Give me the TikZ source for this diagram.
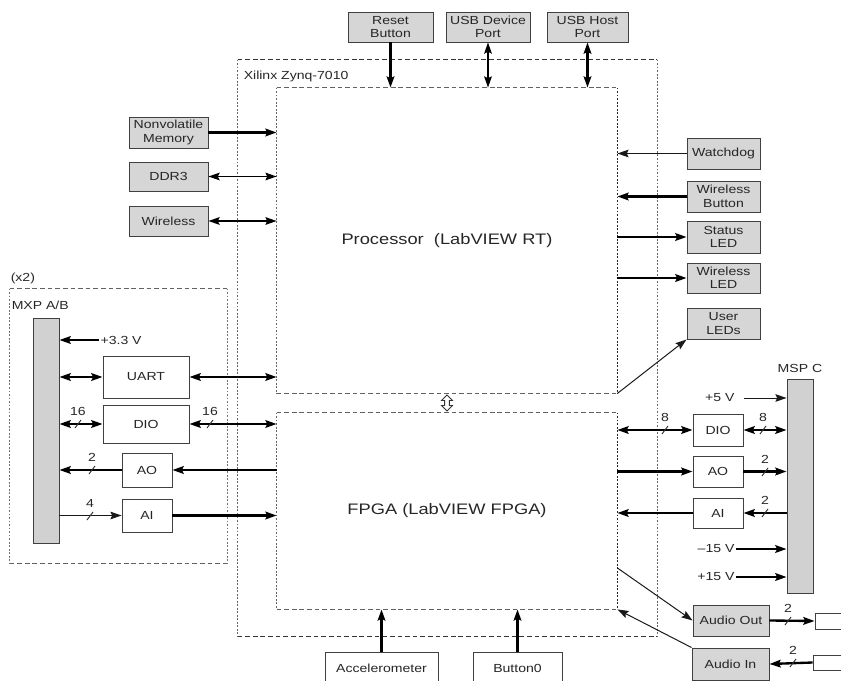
\documentclass[tikz,border=0pt]{standalone}
\usepackage{fontspec}
\setmainfont{Liberation Sans}[FakeStretch=1.2]
\usetikzlibrary{arrows.meta,positioning,calc,shapes.arrows}
\newcommand{\pxu}{0.03cm}
% bus width mark: slash on the line with the bit count above it
\newcommand{\busw}[3]{%
  \draw[sbus] (#1,#2) ++(-3,4) -- ++(6,-8);
  \node[sbusno] at (#1,#2-13) {#3};}
\tikzset{
  every picture/.style={line width=0.7pt},
  every node/.style={text=black!85, font=\fontsize{10}{11.5}\selectfont},
  >={Stealth[length=9.5pt,width=6.5pt,inset=1.5pt]},
  gbox/.style 2 args={draw=black!75, fill=black!16, line width=0.8pt,
    minimum width=#1*\pxu, minimum height=#2*\pxu, inner sep=0pt, align=center},
  wbox/.style 2 args={gbox={#1}{#2}, fill=white},
  sbar/.style 2 args={gbox={#1}{#2}, fill=black!18},
  region/.style 2 args={minimum width=#1*\pxu, minimum height=#2*\pxu, inner sep=0pt,
    font=\fontsize{13}{15}\selectfont},
  hdash/.style={draw=black!80, line width=1pt, dash pattern=on 4pt off 2.5pt},
  vdash/.style={draw=black!85, line width=1.1pt, dash pattern=on 1.6pt off 1.4pt},
  thk/.style={line width=2pt, draw=black},
  mid/.style={line width=1.3pt, draw=black},
  thn/.style={line width=0.85pt, draw=black!90},
  sbus/.style={line width=0.8pt, draw=black!80},
  sbusno/.style={inner sep=0pt},
  volt/.style={inner sep=1pt},
  grp/.style={inner sep=2pt, anchor=west},
  slink/.style={double arrow, draw=black!80, fill=white, line width=0.7pt,
    shape border rotate=90, minimum height=16*\pxu, minimum width=11*\pxu,
    inner sep=1.2pt, double arrow head extend=2pt},
}

\begin{document}
\begin{tikzpicture}[x=\pxu, y=-\pxu]
\useasboundingbox (0,0) rectangle (841,681);

% Zynq device and its two halves
\node[region={419}{576}] (zynq) at (447.5,348) {};
\draw[hdash] (zynq.north west) -- (zynq.north east) (zynq.south west) -- (zynq.south east);
\draw[vdash, draw=black!60] (zynq.north west) -- (zynq.south west) (zynq.north east) -- (zynq.south east);
\node[grp] (zynqlbl) at (241,76) {Xilinx Zynq-7010};

\node[region={340}{305}] (proc) at (447,240.5) {Processor\ \ (LabVIEW RT)};
\draw[hdash, draw=black!62] (proc.north west) -- (proc.north east) (proc.south west) -- (proc.south east);
\draw[vdash, draw=black!60] (proc.north west) -- (proc.south west);
\draw[vdash] (proc.north east) -- (proc.south east);

\node[region={340}{196}] (fpga) at (447,511) {FPGA (LabVIEW FPGA)};
\draw[hdash, draw=black!62] (fpga.north west) -- (fpga.north east) (fpga.south west) -- (fpga.south east);
\draw[vdash, draw=black!60] (fpga.north west) -- (fpga.south west);
\draw[vdash] (fpga.north east) -- (fpga.south east);

\node[slink] (link) at ($(proc.south)!0.5!(fpga.north)$) {};

% top
\node[gbox={85}{30}] (reset) at (390.5,27) {Reset\\Button};
\node[gbox={84}{30}] (usbdev) at (488,27) {USB Device\\Port};
\node[gbox={81}{30}] (usbhost) at (587.5,27) {USB Host\\Port};
\draw[thk,->] (reset.south) -- (reset.south |- proc.north);
\draw[mid,<->] (usbdev.south) -- (usbdev.south |- proc.north);
\draw[thk,<->] (usbhost.south) -- (usbhost.south |- proc.north);

% left of processor
\node[gbox={79}{31}] (nvmem) at (168.5,132.5) {Nonvolatile\\Memory};
\node[gbox={79}{29}] (ddr) at (168.5,176.5) {DDR3};
\node[gbox={79}{30}] (wless) at (168.5,221) {Wireless};
\draw[thk,->] (nvmem.east) -- (nvmem.east -| proc.west);
\draw[mid,<->] (ddr.east) -- (ddr.east -| proc.west);
\draw[mid,<->] (wless.east) -- (wless.east -| proc.west);

% MXP connectors
\node[region={217}{274}] (mxp) at (118.5,426) {};
\draw[hdash, draw=black!62] (mxp.north west) -- (mxp.north east) (mxp.south west) -- (mxp.south east);
\draw[vdash, draw=black!55] (mxp.north west) -- (mxp.south west) (mxp.north east) -- (mxp.south east);
\node[grp] (mxpx) at (8,278) {(x2)};
\node[grp] (mxplbl) at (9,305) {MXP A/B};
\node[sbar={26}{225}] (mxpbar) at (46,430.5) {};
\node[volt, anchor=west] (v33) at (99,340) {+3.3 V};
\node[wbox={86}{42}] (luart) at (146,377) {UART};
\node[wbox={86}{38}] (ldio) at (146,424) {DIO};
\node[wbox={50}{34}] (lao) at (147,470) {AO};
\node[wbox={50}{33}] (lai) at (147,515.5) {AI};
\draw[thk,->] (v33.west) -- (v33.west -| mxpbar.east);
\draw[thk,<->] (luart.west -| mxpbar.east) -- (luart.west);
\draw[thk,<->] (luart.east) -- (luart.east -| proc.west);
\draw[thk,<->] (ldio.west -| mxpbar.east) -- (ldio.west);
\draw[thk,<->] (ldio.east) -- (ldio.east -| fpga.west);
\draw[thk,->] (lao.east -| fpga.west) -- (lao.east);
\draw[thk,->] (lao.west) -- (lao.west -| mxpbar.east);
\draw[thn,->] (lai.west -| mxpbar.east) -- (lai.west);
\draw[thk,->] (lai.east) -- (lai.east -| fpga.west);
\busw{78}{424}{16}
\busw{210}{424}{16}
\busw{92}{470}{2}
\busw{90}{516}{4}

% right of processor
\node[gbox={73}{31}] (wdog) at (723.5,153.5) {Watchdog};
\node[gbox={73}{31}] (wbtn) at (723.5,196.5) {Wireless\\Button};
\node[gbox={73}{32}] (sled) at (723.5,237) {Status\\LED};
\node[gbox={73}{30}] (wled) at (723.5,278) {Wireless\\LED};
\node[gbox={73}{31}] (uled) at (723.5,323.5) {User\\LEDs};
\draw[thn,->] (wdog.west) -- (wdog.west -| proc.east);
\draw[thk,->] (wbtn.west) -- (wbtn.west -| proc.east);
\draw[thk,->] (sled.west -| proc.east) -- (sled.west);
\draw[thk,->] (wled.west -| proc.east) -- (wled.west);
\draw[thn,->] (proc.south east) -- (uled.south west);

% MSP connector
\node (msplbl) at (800,368) {MSP C};
\node[sbar={26}{214}] (mspbar) at (800,486) {};
\node[volt, anchor=east] (v5) at (736,398) {+5 V};
\node[wbox={50}{32}] (rdio) at (718,430) {DIO};
\node[wbox={50}{31}] (rao) at (718,471.5) {AO};
\node[wbox={50}{30}] (rai) at (718,513) {AI};
\node[volt, anchor=east] (vm15) at (736,549) {\textendash 15 V};
\node[volt, anchor=east] (vp15) at (736,577) {+15 V};
\draw[thn,->,shorten <=7pt] (v5.east) -- (v5.east -| mspbar.west);
\draw[thk,<->] (rdio.west -| fpga.east) -- (rdio.west);
\draw[thk,<->] (rdio.east) -- (rdio.east -| mspbar.west);
\draw[thk,->] (rao.west -| fpga.east) -- (rao.west);
\draw[thk,->] (rao.east) -- (rao.east -| mspbar.west);
\draw[thk,->] (rai.east -| mspbar.west) -- (rai.east);
\draw[thk,->] (rai.west) -- (rai.west -| fpga.east);
\draw[thk,->] (vm15.east) -- (vm15.east -| mspbar.west);
\draw[thk,->] (vp15.east) -- (vp15.east -| mspbar.west);
\busw{665}{430}{8}
\busw{763}{430}{8}
\busw{765}{472}{2}
\busw{765}{513}{2}

% audio
\node[gbox={76}{31}] (aout) at (731,620.5) {Audio Out};
\node[gbox={77}{32}] (ain) at (730.5,664) {Audio In};
\node[wbox={45}{16}] (aoutjack) at (837.5,621) {};
\node[wbox={45}{15}] (ainjack) at (835.5,662.5) {};
\coordinate (atap) at (fpga.east |- 0,568);
\draw[thn,->] (atap) -- (aout.west);
\draw[thn,->] (ain.north west) -- (fpga.south east);
\draw[thk,->] (aout.east) -- (aoutjack.west);
\draw[thk,->] (ainjack.west) -- (ain.east);
\busw{788}{621}{2}
\busw{793}{663}{2}

% bottom
\node[wbox={113}{33}] (accel) at (381.5,668.5) {Accelerometer};
\node[wbox={89}{33}] (btn) at (517.5,668.5) {Button0};
\draw[thk,->] (accel.north) -- (accel.north |- fpga.south);
\draw[thk,->] (btn.north) -- (btn.north |- fpga.south);
\end{tikzpicture}
\end{document}
